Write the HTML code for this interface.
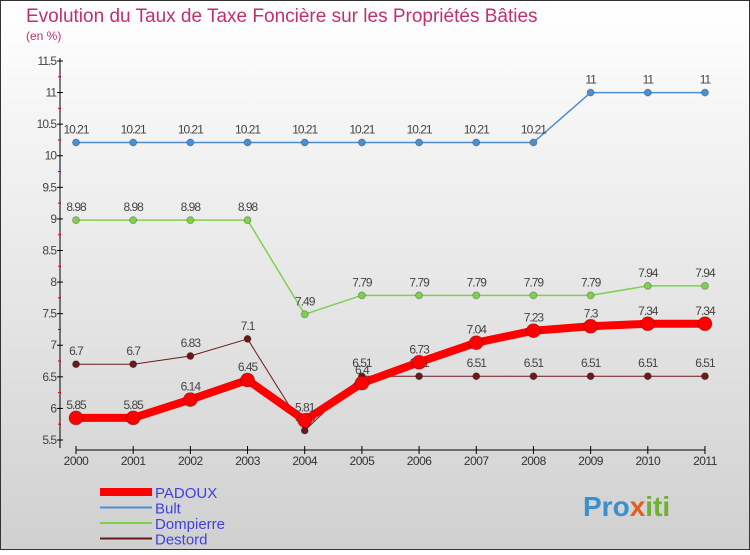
<!DOCTYPE html>
<html><head><meta charset="utf-8"><style>
body{margin:0;width:750px;height:550px;overflow:hidden;font-family:"Liberation Sans",sans-serif}
</style></head><body>
<svg width="750" height="550" xmlns="http://www.w3.org/2000/svg">
<defs><linearGradient id="bg" x1="0" y1="0" x2="0" y2="1"><stop offset="0" stop-color="#ffffff"/><stop offset="1" stop-color="#d0d0d0"/></linearGradient></defs>
<rect x="0.5" y="0.5" width="749" height="549" fill="url(#bg)" stroke="#333"/>
<text x="26" y="22" font-size="19" fill="#c03070">Evolution du Taux de Taxe Foncière sur les Propriétés Bâties</text>
<text x="26" y="40" font-size="12" fill="#c03070">(en %)</text>
<g id="axes"></g><g id="series"></g><g id="legend"></g>
<text x="583" y="516" font-size="28" font-weight="bold" fill="#3a8fd0">Pro<tspan fill="#e06020">x</tspan><tspan fill="#70b030">iti</tspan></text>
</svg>
<script>
const years=[2000,2001,2002,2003,2004,2005,2006,2007,2008,2009,2010,2011];
const yTicks=[5.5,6,6.5,7,7.5,8,8.5,9,9.5,10,10.5,11,11.5];
const padoux=[5.85,5.85,6.14,6.45,5.81,6.4,6.73,7.04,7.23,7.3,7.34,7.34];
const bult=[10.21,10.21,10.21,10.21,10.21,10.21,10.21,10.21,10.21,11,11,11];
const dompierre=[8.98,8.98,8.98,8.98,7.49,7.79,7.79,7.79,7.79,7.79,7.94,7.94];
const destord=[6.7,6.7,6.83,7.1,5.65,6.51,6.51,6.51,6.51,6.51,6.51,6.51];
const NS="http://www.w3.org/2000/svg";
const X=i=>76+i*57.18, Y=v=>440-(v-5.5)*63.17;
function mk(p,t,a){const e=document.createElementNS(NS,t);for(const k in a)e.setAttribute(k,a[k]);p.appendChild(e);return e;}
const ax=document.getElementById('axes');
let l=mk(ax,'line',{x1:60,y1:58,x2:60,y2:448,stroke:'#000'});


l=mk(ax,'line',{x1:76,y1:450,x2:705,y2:450,stroke:'#000'});


yTicks.forEach((v,i)=>{
 mk(ax,'line',{x1:57,y1:Y(v),x2:63,y2:Y(v),stroke:'#000'});
 if(i<yTicks.length-1)mk(ax,'line',{x1:58,y1:Y(v+0.25),x2:61,y2:Y(v+0.25),stroke:'#e00000'});
 const t=mk(ax,'text',{x:56,y:Y(v)+4,'font-size':12,'text-anchor':'end',fill:'#444','letter-spacing':'-1'});
 t.textContent=v;
 
 
});
years.forEach((y,i)=>{
 mk(ax,'line',{x1:X(i),y1:446,x2:X(i),y2:454,stroke:'#000'});
 const t=mk(ax,'text',{x:X(i),y:465,'font-size':12,'text-anchor':'middle',fill:'#333','letter-spacing':'-0.5'});
 t.textContent=y;
 
 
});
const sg=document.getElementById('series');
function draw(vals,color,w,r,name,labels){
 const g=mk(sg,'g',{});
 
 
 mk(g,'polyline',{points:vals.map((v,i)=>X(i)+','+Y(v)).join(' '),fill:'none',stroke:color,'stroke-width':w,'stroke-linejoin':'round'});
 vals.forEach((v,i)=>{
  const c=mk(g,'circle',{cx:X(i),cy:Y(v),r:r,fill:color,stroke:'rgba(0,0,0,0.25)'});
  
  
  if(labels){const t=mk(g,'text',{x:X(i),y:Y(v)-9,'font-size':12,'text-anchor':'middle',fill:'#444','letter-spacing':'-1'});t.textContent=v;}
 });
}
draw(bult,'#4a90d0',1.5,3.5,'bult',true);
draw(dompierre,'#80d050',1.5,3.5,'dompierre',true);
draw(destord,'#6a1a1a',1,3.5,'destord',true);
draw(padoux,'#ff0000',8,7,'padoux',true);
const lg=document.getElementById('legend');
[['PADOUX','#ff0000',8],['Bult','#4a90d0',2],['Dompierre','#80d050',2],['Destord','#6a1a1a',2]].forEach((d,i)=>{
 const yy=492+i*15.5;
 const g=mk(lg,'g',{});
 
 
 mk(g,'line',{x1:100,y1:yy,x2:152,y2:yy,stroke:d[1],'stroke-width':d[2]});
 const t=mk(g,'text',{x:155,y:yy+6,'font-size':15,fill:'#4040e0'});t.textContent=d[0];
});
</script>
</body></html>
